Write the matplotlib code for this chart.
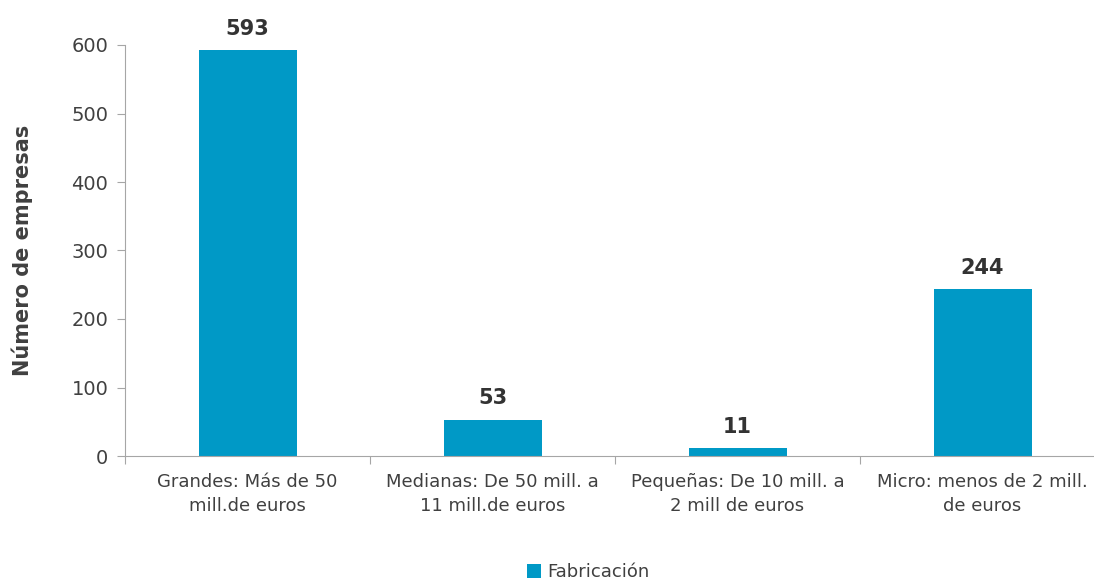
import numpy as np
from matplotlib import pyplot as plt

# data
categories = ['Grandes: Más de 50\nmill.de euros',
              'Medianas: De 50 mill. a\n11 mill.de euros',
              'Pequeñas: De 10 mill. a\n2 mill de euros',
              'Micro: menos de 2 mill.\nde euros']
values = [593, 53, 11, 244]
series_name = 'Fabricación'

bar_color = '#0099c6'
text_color = '#404040'
axis_color = '#a6a6a6'

plt.rcParams['font.family'] = ['DejaVu Sans']

fig = plt.figure(figsize=(10.94, 5.83), dpi=100)
ax = fig.add_axes([125 / 1094, 127 / 583, 980 / 1094, 411 / 583])

x = np.arange(len(categories))
bars = ax.bar(x, values, width=0.4, color=bar_color, label=series_name)

# value labels above the bars
for xi, v in zip(x, values):
    ax.annotate(str(v), (xi, v), xytext=(0, 11), textcoords='offset points',
                ha='center', va='baseline', fontsize=15, fontweight='bold',
                color='#333333')

ax.set_xlim(-0.5, len(categories) - 0.5)
ax.set_ylim(0, 600)
ax.set_yticks(np.arange(0, 601, 100))
ax.tick_params(axis='y', labelsize=14, colors=text_color, length=6,
               color=axis_color, pad=6)

# category ticks sit on the boundaries, labels in the middle
ax.set_xticks(np.arange(-0.5, len(categories), 1.0))
ax.set_xticklabels([])
ax.set_xticks(x, minor=True)
ax.set_xticklabels(categories, minor=True, fontsize=13, color=text_color,
                   linespacing=1.45)
ax.tick_params(axis='x', which='major', length=6, color=axis_color)
ax.tick_params(axis='x', which='minor', length=0, pad=12)

for side in ['top', 'right']:
    ax.spines[side].set_visible(False)
for side in ['left', 'bottom']:
    ax.spines[side].set_color(axis_color)

ax.set_ylabel('Número de empresas', fontsize=15, fontweight='bold',
              color=text_color)
ax.yaxis.set_label_coords(-(125 - 33) / 980, 0.5)

fig.legend(loc='center', bbox_to_anchor=(588 / 1094, 1 - 572 / 583),
           frameon=False, fontsize=13, handlelength=0.8, handleheight=0.8,
           handletextpad=0.3, labelcolor=text_color)

plt.savefig('out.png', dpi=100)
